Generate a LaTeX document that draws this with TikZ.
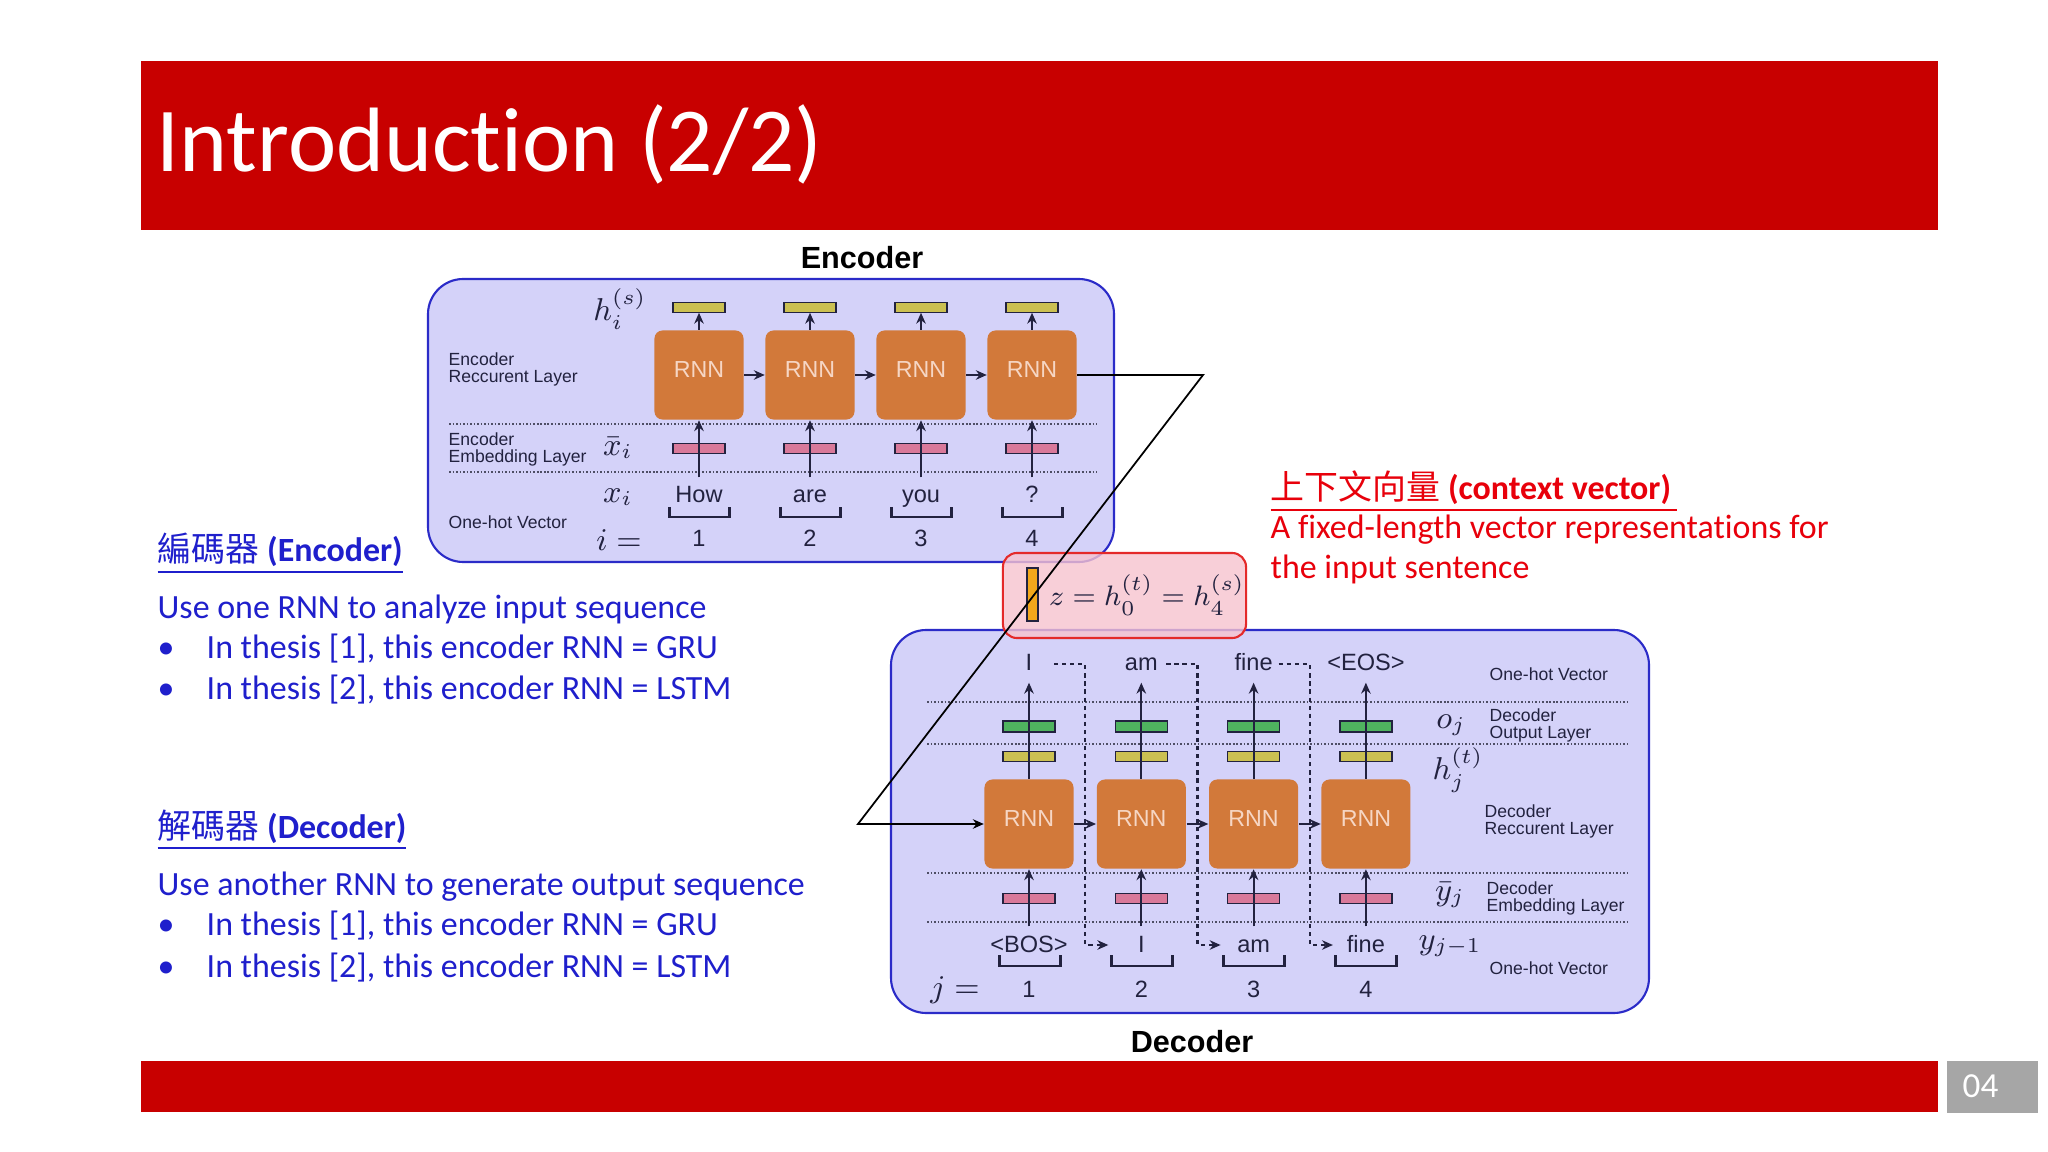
\documentclass[tikz,border=0pt]{standalone}
\usepackage{fontspec}
\setmainfont{Carlito}[Ligatures=NoCommon]
\setsansfont{Liberation Sans}
\newfontfamily\cjk{Noto Sans CJK TC}
\usepackage{tikz}
\usetikzlibrary{arrows.meta,positioning,calc}
\definecolor{slidered}{HTML}{C80000}
\definecolor{pagegray}{HTML}{A6A6A6}
\definecolor{noteblue}{HTML}{1F1FCC}
\definecolor{notered}{HTML}{E8000B}
\definecolor{panelfill}{HTML}{D4D2F9}
\definecolor{paneldraw}{HTML}{2B2BC8}
\definecolor{rnnorange}{HTML}{D2793A}
\definecolor{rnntext}{HTML}{F6D6C4}
\definecolor{hyellow}{HTML}{CBC052}
\definecolor{embpink}{HTML}{D9799A}
\definecolor{outgreen}{HTML}{4FB35F}
\definecolor{ink}{HTML}{22223F}
\definecolor{ctxfill}{HTML}{F7C3CF}
\definecolor{ctxdraw}{HTML}{E42A2A}
\definecolor{zorange}{HTML}{F2A71B}

\begin{document}
\begin{tikzpicture}[
    x=0.01cm,y=-0.01cm,
    >={Stealth[length=3.1pt,width=2.7pt]},
    node distance=0.17cm,
    panel/.style={draw=paneldraw,fill=panelfill,line width=0.6pt,rounded corners=10pt},
    rnn/.style={fill=rnnorange,rounded corners=2.3pt,minimum size=0.89cm,inner sep=0pt,
                text depth=0.1cm,text=rnntext,font=\sffamily\fontsize{6.6}{8}\selectfont},
    vecbar/.style={draw=ink,line width=0.35pt,minimum width=0.52cm,minimum height=0.1cm,inner sep=0pt},
    word/.style={text=ink,font=\sffamily\fontsize{6.7}{8}\selectfont,inner sep=0pt,anchor=base,
                 text height=0.25cm,text depth=0.12cm},
    layer/.style={text=ink,font=\sffamily\fontsize{5}{4.85}\selectfont,align=left,inner sep=0pt,anchor=west},
    sym/.style={text=ink,font=\fontsize{9}{10}\selectfont,inner sep=0pt},
    gridline/.style={draw=ink!80,dash pattern=on 0.45pt off 0.55pt,line width=0.45pt},
    flow/.style={->,draw=ink,line width=0.6pt},
    feed/.style={flow,dash pattern=on 1.2pt off 1.1pt},
    wbracket/.style={draw=ink,line width=0.85pt},
    ctxbox/.style={draw=ctxdraw,fill=ctxfill,fill opacity=0.8,rounded corners=4pt,line width=0.6pt},
    note/.style={anchor=base west,inner sep=0pt,font=\fontsize{9.65}{11}\selectfont}
  ]
  \useasboundingbox (0,0) rectangle (2048,1152);
  \fill[white] (0,0) rectangle (2048,1152);

  % slide frame
  \fill[slidered] (141,61) rectangle (1938,230);
  \fill[slidered] (141,1061) rectangle (1938,1112);
  \fill[pagegray] (1947,1061) rectangle (2038,1113);
  \node[note,text=white,font=\fontsize{26}{30}\selectfont] (title) at (156,172) {Introduction (2/2)};
  \node[note,text=white,font=\fontsize{10}{12}\selectfont] (pagenum) at (1962,1097) {04};

  % panels
  \draw[panel] (428,279) rectangle (1114,562);
  \draw[panel] (891,630) rectangle (1649,1013);
  \draw[gridline] (449,424) -- (1097,424);
  \draw[gridline] (449,472) -- (1097,472);
  \foreach \y in {702,744,873,922} {
    \draw[gridline] (927,\y) -- (1629,\y);
  }
  \node[font=\sffamily\bfseries\fontsize{8.7}{10}\selectfont,inner sep=0pt] (enctitle) at (862,258) {Encoder};
  \node[font=\sffamily\bfseries\fontsize{8.7}{10}\selectfont,inner sep=0pt] (dectitle) at (1192,1042) {Decoder};

  % encoder
  \foreach \i/\w in {1/How,2/are,3/you,4/?} {
    \node[rnn] (encrnn\i) at ({699+111*(\i-1)},375) {RNN};
    \node[vecbar,fill=hyellow,above=of encrnn\i] (ench\i) {};
    \node[vecbar,fill=embpink,below=0.23cm of encrnn\i] (encemb\i) {};
    \node[word] (encword\i) at ({699+111*(\i-1)},503) {\w};
    \node[word] (encidx\i) at ({699+111*(\i-1)},547) {\i};
    \draw[wbracket] ($(encword\i.base)+(-30,4)$) -- ++(0,10) -- ++(60,0) -- ++(0,-10);
    \draw[flow] (encrnn\i.north) -- (ench\i.south);
    \draw[flow] (encword\i.north) -- (encrnn\i.south);
  }
  \foreach \i [count=\j from 2] in {1,2,3} {
    \draw[flow] (encrnn\i.east) -- (encrnn\j.west);
  }
  \node[layer] (enclayrec) at (448,369) {Encoder\\Reccurent Layer};
  \node[layer] (enclayemb) at (448,449) {Encoder\\Embedding Layer};
  \node[layer] (enclayhot) at (448,522) {One-hot Vector};
  \node[sym] (enchsym) at (620,309) {$h_i^{(s)}$};
  \node[sym] (encxbar) at (618,448) {$\bar{x}_i$};
  \node[sym] (encxsym) at (618,497) {$x_i$};
  \node[sym] (encisym) at (619,540) {$i=$};

  % decoder
  \foreach \i/\inw/\outw in {1/<BOS>/I,2/I/am,3/am/fine,4/fine/<EOS>} {
    \node[rnn] (decrnn\i) at ({1029+112.3*(\i-1)},824) {RNN};
    \node[vecbar,fill=hyellow,above=of decrnn\i] (dech\i) {};
    \node[vecbar,fill=outgreen,minimum height=0.11cm,above=0.18cm of dech\i] (deco\i) {};
    \node[vecbar,fill=embpink,below=0.24cm of decrnn\i] (decemb\i) {};
    \node[word] (decword\i) at ({1029+112.3*(\i-1)},670) {\outw};
    \node[word] (decin\i) at ({1029+112.3*(\i-1)},952) {\inw};
    \node[word] (decidx\i) at ({1029+112.3*(\i-1)},997) {\i};
    \draw[wbracket] ($(decin\i.base)+(-30,3)$) -- ++(0,11) -- ++(61,0) -- ++(0,-11);
    \draw[flow] (decrnn\i.north) -- (decword\i.south);
    \draw[flow] (decin\i.north) -- (decrnn\i.south);
  }
  \foreach \i [count=\j from 2] in {1,2,3} {
    \draw[flow] (decrnn\i.east) -- (decrnn\j.west);
    \draw[feed] ($(decword\i.base)+(25,-6)$) -| ($(decrnn\i)!0.5!(decrnn\j)$) |- ($(decin\j.base)+(-33,-7)$);
  }
  \node[layer] (declayhot) at (1489,674) {One-hot Vector};
  \node[layer] (declayout) at (1489,725) {Decoder\\Output Layer};
  \node[layer] (declayrec) at (1484,821) {Decoder\\Reccurent Layer};
  \node[layer] (declayemb) at (1486,898) {Decoder\\Embedding Layer};
  \node[layer] (declayhot2) at (1489,968) {One-hot Vector};
  \node[sym] (decosym) at (1451,725) {$o_j$};
  \node[sym] (dechsym) at (1458,770) {$h_j^{(t)}$};
  \node[sym] (decybar) at (1450,895) {$\bar{y}_j$};
  \node[sym] (decysym) at (1450,946) {$y_{j-1}$};
  \node[sym] (decjsym) at (955,990) {$j=$};

  % context vector
  \node[ctxbox,minimum width=2.43cm,minimum height=0.85cm] (ctx) at (1124.5,595.5) {};
  \node[vecbar,fill=zorange,minimum width=0.11cm,minimum height=0.53cm] (zvec) at (1032.5,594.5) {};
  \node[sym,font=\fontsize{8}{10}\selectfont] (zeq) at (1147,595) {$z=h_0^{(t)}=h_4^{(s)}$};
  \coordinate (ctxturn) at (1203,375);
  \coordinate (ctxdrop) at (858,824);
  \draw[flow,draw=black,line width=0.5pt] (encrnn4.east) -- (ctxturn) -- (ctxdrop) -- (decrnn1.west);

  % notes
  \node[note,text=noteblue] (enchead) at (157,562) {\underline{{\cjk 編碼器} \textbf{(Encoder)}}};
  \node[note,text=noteblue] (encnote) at (157,618) {Use one RNN to analyze input sequence};
  \foreach \k/\y/\m in {1/658/GRU,2/699/LSTM} {
    \node[note,text=noteblue] (encdot\k) at (157,\y) {\textbullet};
    \node[note,text=noteblue] (encitem\k) at (206,\y) {In thesis [\k], this encoder RNN = \m};
  }
  \node[note,text=noteblue] (dechead) at (157,838) {\underline{{\cjk 解碼器} \textbf{(Decoder)}}};
  \node[note,text=noteblue] (decnote) at (157,895) {Use another RNN to generate output sequence};
  \foreach \k/\y/\m in {1/935/GRU,2/977/LSTM} {
    \node[note,text=noteblue] (decdot\k) at (157,\y) {\textbullet};
    \node[note,text=noteblue] (decitem\k) at (206,\y) {In thesis [\k], this encoder RNN = \m};
  }
  \node[note,text=notered] (ctxhead) at (1270,500) {\underline{{\cjk 上下文向量} \textbf{(context vector)}\,}};
  \node[note,text=notered] (ctxnote1) at (1270,538) {A fixed-length vector representations for};
  \node[note,text=notered] (ctxnote2) at (1270,578) {the input sentence};
\end{tikzpicture}
\end{document}
